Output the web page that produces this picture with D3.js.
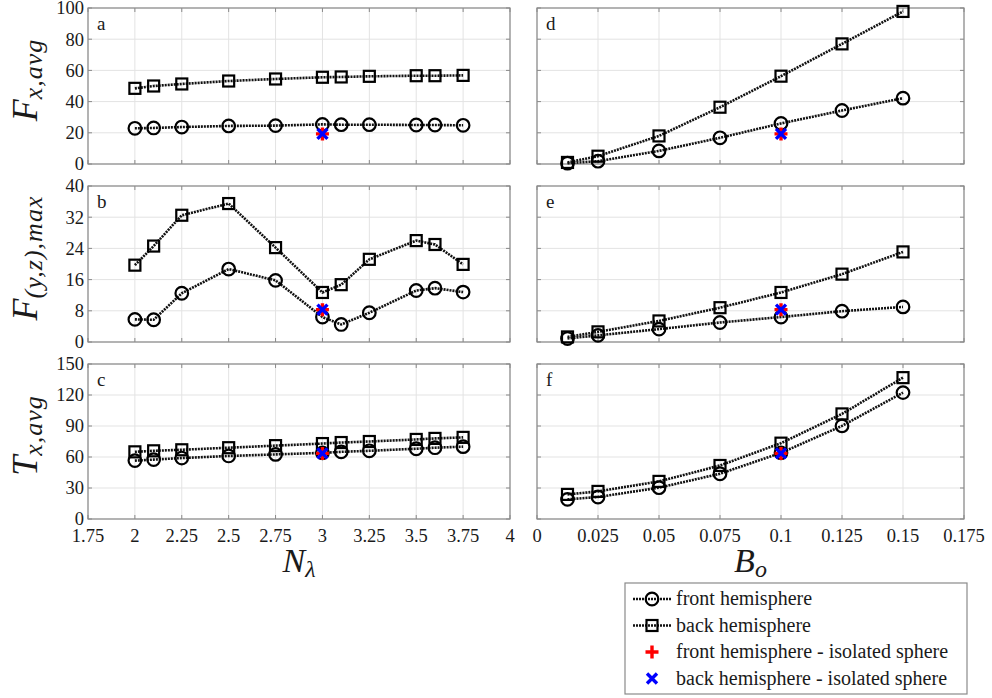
<!DOCTYPE html>
<html>
<head>
<meta charset="utf-8">
<script src="https://cdn.jsdelivr.net/npm/d3@7"></script>
<style>
  html, body { margin: 0; padding: 0; background: #fff; }
  svg { display: block; font-family: "Liberation Serif", "Times New Roman", serif; }
</style>
</head>
<body>
<svg id="chart" width="992" height="698"></svg>
<script>
// ---------------- data ----------------
const nLambda = [2, 2.1, 2.25, 2.5, 2.75, 3, 3.1, 3.25, 3.5, 3.6, 3.75];
const bo = [0.0125, 0.025, 0.05, 0.075, 0.1, 0.125, 0.15];

const fxFrontN = [22.9, 23.1, 23.7, 24.4, 24.6, 25.4, 25.2, 25.2, 25.0, 25.0, 24.8];
const fxBackN  = [48.5, 50.0, 51.3, 53.2, 54.5, 55.6, 55.8, 56.2, 56.6, 56.6, 56.8];
const fyzFrontN = [5.8, 5.7, 12.5, 18.7, 15.8, 6.4, 4.5, 7.5, 13.2, 13.8, 12.8];
const fyzBackN  = [19.7, 24.6, 32.5, 35.5, 24.2, 12.7, 14.7, 21.2, 26.0, 25.0, 19.9];
const txFrontN = [56.5, 57.5, 59, 61, 62.5, 64, 65, 66, 68, 69, 70];
const txBackN  = [65, 66, 67, 69, 71, 73, 74, 75, 77, 78, 79];

const fxFrontB = [0.5, 1.8, 8.4, 16.8, 26.0, 34.3, 42.2];
const fxBackB  = [1.0, 5.0, 18.0, 36.4, 56.3, 77.0, 97.8];
const fyzFrontB = [0.9, 1.7, 3.3, 5.0, 6.4, 7.9, 9.0];
const fyzBackB  = [1.3, 2.6, 5.4, 8.8, 12.7, 17.4, 23.1];
const txFrontB = [19, 21.3, 30.3, 43.8, 64, 90.1, 122.3];
const txBackB  = [23.8, 26.7, 36.4, 51.8, 73.4, 101.7, 136.8];

// isolated sphere (single point at N=3 / Bo=0.1)
const isoX_N = 3, isoX_B = 0.1;
const isoFront = [19.3, 8.3, 63.5];
const isoBack  = [19.3, 8.3, 63.5];

const nTicks = [1.75, 2, 2.25, 2.5, 2.75, 3, 3.25, 3.5, 3.75, 4];
const boTicks = [0, 0.025, 0.05, 0.075, 0.1, 0.125, 0.15, 0.175];
const yTicksFx = [0, 20, 40, 60, 80, 100];
const yTicksFyz = [0, 8, 16, 24, 32, 40];
const yTicksTx = [0, 30, 60, 90, 120, 150];

const panelLetters = ["a", "b", "c", "d", "e", "f"];
const legendLabels = ["front hemisphere", "back hemisphere",
  "front hemisphere - isolated sphere", "back hemisphere - isolated sphere"];

// ---------------- layout ----------------
const svg = d3.select("#chart");
const cols = [[88, 510], [537, 964]];
const rows = [[8, 164], [186, 342], [364, 519]];
const yDomains = [[0, 100], [0, 40], [0, 150]];
const yTickSets = [yTicksFx, yTicksFyz, yTicksTx];

const xScales = [
  d3.scaleLinear().domain([1.75, 4]).range(cols[0]),
  d3.scaleLinear().domain([0, 0.175]).range(cols[1])
];
const xTickSets = [nTicks, boTicks];
const xData = [nLambda, bo];
const seriesFront = [[fxFrontN, fyzFrontN, txFrontN], [fxFrontB, fyzFrontB, txFrontB]];
const seriesBack = [[fxBackN, fyzBackN, txBackN], [fxBackB, fyzBackB, txBackB]];
const isoXs = [isoX_N, isoX_B];

const axisColor = "#8a8a8a";
const gridColor = "#e3e3e3";
const textColor = "#1a1a1a";
const fmt = v => (+v.toFixed(4)).toString();

function circleMarker(g, x, y) {
  g.append("circle").attr("cx", x).attr("cy", y).attr("r", 6.3)
    .attr("fill", "none").attr("stroke", "#000").attr("stroke-width", 2.2);
}
function squareMarker(g, x, y) {
  g.append("rect").attr("x", x - 5.5).attr("y", y - 5.5).attr("width", 11).attr("height", 11)
    .attr("fill", "none").attr("stroke", "#000").attr("stroke-width", 2.2);
}
function plusMarker(g, x, y) {
  g.append("path").attr("d", `M${x-6.5},${y}H${x+6.5}M${x},${y-6.5}V${y+6.5}`)
    .attr("stroke", "#ff0000").attr("stroke-width", 3.4).attr("fill", "none");
}
function crossMarker(g, x, y) {
  const s = 5;
  g.append("path").attr("d", `M${x-s},${y-s}L${x+s},${y+s}M${x-s},${y+s}L${x+s},${y-s}`)
    .attr("stroke", "#0000ff").attr("stroke-width", 3.4).attr("fill", "none");
}

for (let c = 0; c < 2; c++) {
  for (let r = 0; r < 3; r++) {
    const x = xScales[c];
    const y = d3.scaleLinear().domain(yDomains[r]).range([rows[r][1], rows[r][0]]);
    const g = svg.append("g");
    const [x0, x1] = cols[c];
    const [y0, y1] = rows[r];

    // grid
    g.append("g").selectAll("line").data(xTickSets[c]).join("line")
      .attr("x1", d => x(d)).attr("x2", d => x(d)).attr("y1", y0).attr("y2", y1)
      .attr("stroke", gridColor).attr("stroke-width", 1);
    g.append("g").selectAll("line").data(yTickSets[r]).join("line")
      .attr("y1", d => y(d)).attr("y2", d => y(d)).attr("x1", x0).attr("x2", x1)
      .attr("stroke", gridColor).attr("stroke-width", 1);

    // inward ticks on all sides
    const tl = 4;
    g.append("g").selectAll("line").data(xTickSets[c]).join("line")
      .attr("x1", d => x(d)).attr("x2", d => x(d)).attr("y1", y1).attr("y2", y1 - tl)
      .attr("stroke", axisColor);
    g.append("g").selectAll("line").data(xTickSets[c]).join("line")
      .attr("x1", d => x(d)).attr("x2", d => x(d)).attr("y1", y0).attr("y2", y0 + tl)
      .attr("stroke", axisColor);
    g.append("g").selectAll("line").data(yTickSets[r]).join("line")
      .attr("y1", d => y(d)).attr("y2", d => y(d)).attr("x1", x0).attr("x2", x0 + tl)
      .attr("stroke", axisColor);
    g.append("g").selectAll("line").data(yTickSets[r]).join("line")
      .attr("y1", d => y(d)).attr("y2", d => y(d)).attr("x1", x1).attr("x2", x1 - tl)
      .attr("stroke", axisColor);

    // box
    g.append("rect").attr("x", x0).attr("y", y0).attr("width", x1 - x0).attr("height", y1 - y0)
      .attr("fill", "none").attr("stroke", axisColor).attr("stroke-width", 1.2);

    // y tick labels only on left column
    if (c === 0) {
      g.append("g").selectAll("text").data(yTickSets[r]).join("text")
        .attr("x", x0 - 4).attr("y", d => y(d)).attr("dy", "0.35em")
        .attr("text-anchor", "end").attr("font-size", 18.5).attr("fill", textColor)
        .text(d => d);
    }
    // x tick labels only on bottom row
    if (r === 2) {
      g.append("g").selectAll("text").data(xTickSets[c]).join("text")
        .attr("x", d => x(d)).attr("y", y1 + 23)
        .attr("text-anchor", "middle").attr("font-size", 18.5).attr("fill", textColor)
        .text(d => fmt(d));
    }

    // panel letter
    g.append("text").attr("x", x0 + 9).attr("y", y0 + 22).attr("font-size", 19)
      .attr("fill", textColor).text(panelLetters[c * 3 + r]);

    // lines
    const line = d3.line().x(d => x(d[0])).y(d => y(d[1]));
    const front = xData[c].map((v, i) => [v, seriesFront[c][r][i]]);
    const back = xData[c].map((v, i) => [v, seriesBack[c][r][i]]);
    [front, back].forEach(pts => {
      g.append("path").attr("d", line(pts)).attr("fill", "none")
        .attr("stroke", "#111").attr("stroke-width", 2.6).attr("stroke-dasharray", "2,1");
    });
    back.forEach(p => squareMarker(g, x(p[0]), y(p[1])));
    front.forEach(p => circleMarker(g, x(p[0]), y(p[1])));

    plusMarker(g, x(isoXs[c]), y(isoFront[r]));
    crossMarker(g, x(isoXs[c]), y(isoBack[r]));
  }
}

// ---------------- axis labels ----------------
const yLabels = [
  { main: "F", sub: "x,avg" },
  { main: "F", sub: "(y,z),max" },
  { main: "T", sub: "x,avg" }
];
yLabels.forEach((lab, r) => {
  const cy = (rows[r][0] + rows[r][1]) / 2 - 6;
  const t = svg.append("text")
    .attr("transform", `translate(37,${cy}) rotate(-90)`)
    .attr("text-anchor", "middle").attr("font-style", "italic").attr("fill", textColor);
  t.append("tspan").attr("font-size", 36).text(lab.main);
  t.append("tspan").attr("font-size", 26).attr("dy", 5).attr("letter-spacing", 1).text(lab.sub);
});

function xLabel(cx, main, sub) {
  const t = svg.append("text").attr("x", cx).attr("y", 572)
    .attr("text-anchor", "middle").attr("font-style", "italic").attr("fill", textColor);
  t.append("tspan").attr("font-size", 34).text(main);
  t.append("tspan").attr("font-size", 24).attr("dy", 5).text(sub);
}
xLabel((cols[0][0] + cols[0][1]) / 2, "N", "λ");
xLabel((cols[1][0] + cols[1][1]) / 2, "B", "o");

// ---------------- legend ----------------
const lg = svg.append("g");
lg.append("rect").attr("x", 625).attr("y", 583).attr("width", 342).attr("height", 111)
  .attr("fill", "#fff").attr("stroke", axisColor).attr("stroke-width", 1.2);
const rowY = [599, 625.5, 652, 678.5];
legendLabels.forEach((lab, i) => {
  const yy = rowY[i];
  if (i < 2) {
    lg.append("line").attr("x1", 633).attr("x2", 671).attr("y1", yy).attr("y2", yy)
      .attr("stroke", "#111").attr("stroke-width", 2.6).attr("stroke-dasharray", "2,1");
    if (i === 0) circleMarker(lg, 652, yy); else squareMarker(lg, 652, yy);
  } else if (i === 2) {
    plusMarker(lg, 652, yy);
  } else {
    crossMarker(lg, 652, yy);
  }
  lg.append("text").attr("x", 676).attr("y", yy).attr("dy", "0.32em")
    .attr("font-size", 20).attr("fill", textColor).text(lab);
});
</script>
</body>
</html>
